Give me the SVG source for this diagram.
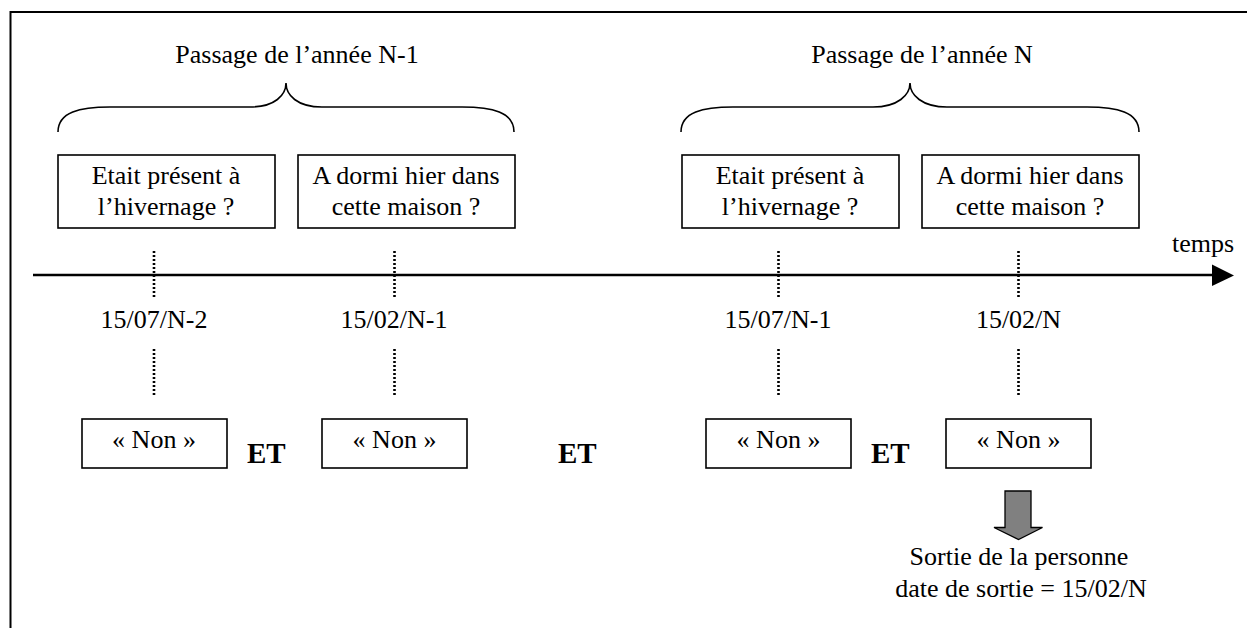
<svg xmlns="http://www.w3.org/2000/svg" width="1247" height="628" viewBox="0 0 1247 628">
<style>
text{font-family:'Liberation Serif','Times New Roman','DejaVu Serif',serif;font-size:26px;fill:#000;text-anchor:middle}
.et{font-weight:bold;font-size:29px;text-anchor:start}
.box{fill:#fff;stroke:#000;stroke-width:1.6}
.brace{fill:none;stroke:#000;stroke-width:1.6}
.dot{stroke:#000;stroke-width:2.6;stroke-dasharray:2 2;fill:none}
</style>
<rect x="0" y="0" width="1247" height="628" fill="#fff"/>
<g id="frame"><path d="M10.5,628 V12 H1247" fill="none" stroke="#000" stroke-width="2"/></g>

<g id="year-n-1">
<text x="297" y="63">Passage de l’année N-1</text>
<path class="brace" d="M58,132 C58,112 80,107 110,107 L250,107 C275,107 286,95 286,83 C286,95 297,107 322,107 L462,107 C492,107 514,112 514,132"/>
</g>
<g id="year-n">
<text x="922" y="63">Passage de l’année N</text>
<path class="brace" d="M681,132 C681,112 703,107 733,107 L873,107 C898,107 910,95 910,83 C910,95 922,107 947,107 L1087,107 C1117,107 1139,112 1139,132"/>
</g>

<g id="q1"><rect class="box" x="58" y="155" width="217" height="73"/><text x="166" y="184">Etait présent à</text><text x="166" y="215">l’hivernage ?</text></g>
<g id="q2"><rect class="box" x="298" y="155" width="217" height="73"/><text x="406" y="184">A dormi hier dans</text><text x="406" y="215">cette maison ?</text></g>
<g id="q3"><rect class="box" x="682" y="155" width="217" height="73"/><text x="790" y="184">Etait présent à</text><text x="790" y="215">l’hivernage ?</text></g>
<g id="q4"><rect class="box" x="922" y="155" width="217" height="73"/><text x="1030" y="184">A dormi hier dans</text><text x="1030" y="215">cette maison ?</text></g>

<g id="timeline">
<line x1="33" y1="275" x2="1214" y2="275" stroke="#000" stroke-width="2.5"/>
<polygon points="1212,264.5 1234,275.5 1212,286" fill="#000"/>
<text x="1203" y="252">temps</text>
</g>

<g id="connectors">
<line class="dot" x1="154" y1="251" x2="154" y2="298"/>
<line class="dot" x1="394.5" y1="251" x2="394.5" y2="298"/>
<line class="dot" x1="778.5" y1="251" x2="778.5" y2="298"/>
<line class="dot" x1="1018.5" y1="251" x2="1018.5" y2="298"/>
<line class="dot" x1="154" y1="349" x2="154" y2="396"/>
<line class="dot" x1="394.5" y1="349" x2="394.5" y2="396"/>
<line class="dot" x1="778.5" y1="349" x2="778.5" y2="396"/>
<line class="dot" x1="1018.5" y1="349" x2="1018.5" y2="396"/>
</g>

<g id="dates">
<text x="154" y="328">15/07/N-2</text>
<text x="394" y="328">15/02/N-1</text>
<text x="778" y="328">15/07/N-1</text>
<text x="1018.5" y="328">15/02/N</text>
</g>

<g id="non1"><rect class="box" x="82" y="419" width="145" height="49"/><text x="154" y="448">« Non »</text></g>
<g id="non2"><rect class="box" x="322" y="419" width="145" height="49"/><text x="394.5" y="448">« Non »</text></g>
<g id="non3"><rect class="box" x="706" y="419" width="145" height="49"/><text x="778.5" y="448">« Non »</text></g>
<g id="non4"><rect class="box" x="946" y="419" width="145" height="49"/><text x="1018.5" y="448">« Non »</text></g>

<g id="et">
<text class="et" x="247" y="463">ET</text>
<text class="et" x="558" y="463">ET</text>
<text class="et" x="871" y="463">ET</text>
</g>

<g id="exit">
<polygon points="1005,491 1031,491 1031,527.5 1042.5,527.5 1018.5,539.5 994,527.5 1005,527.5" fill="#808080" stroke="#000" stroke-width="1.3"/>
<text x="1019" y="565">Sortie de la personne</text>
<text x="1021" y="597">date de sortie = 15/02/N</text>
</g>
</svg>
